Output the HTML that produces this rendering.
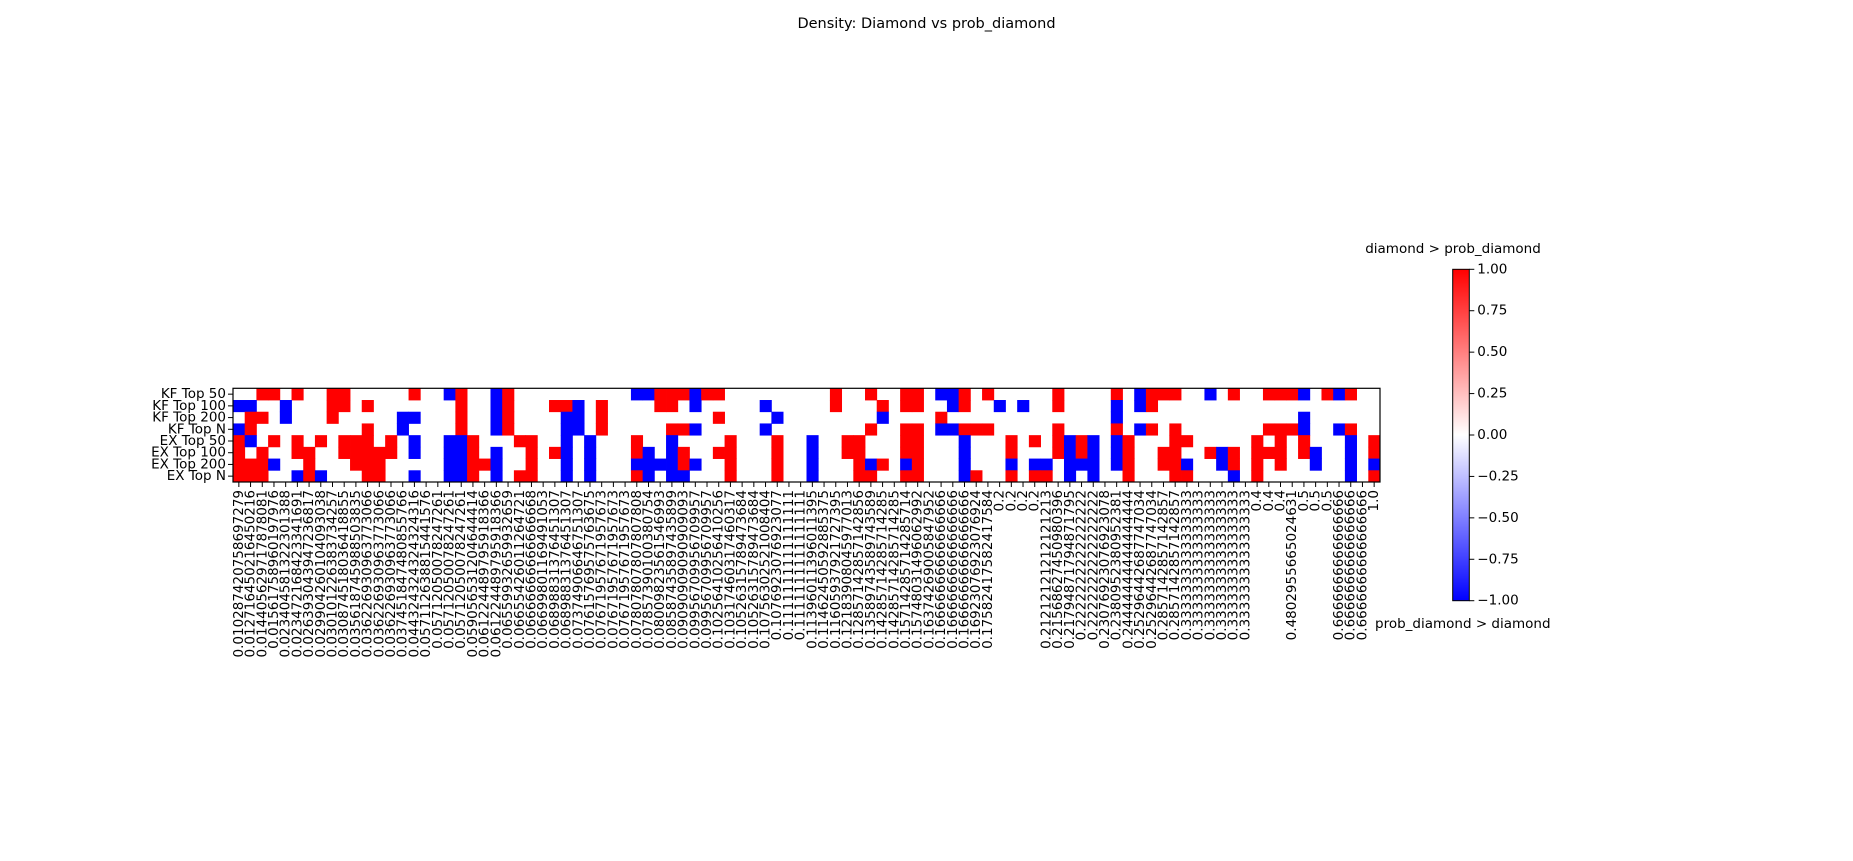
<!DOCTYPE html>
<html><head><meta charset="utf-8"><title>Density: Diamond vs prob_diamond</title>
<style>
html,body{margin:0;padding:0;background:#fff;}
svg{display:block;font-family:"DejaVu Sans","Liberation Sans",sans-serif;}
</style></head>
<body>
<svg id="fig" width="1853" height="861" viewBox="0 0 1853 861" xmlns="http://www.w3.org/2000/svg">
  <rect x="0" y="0" width="1853" height="861" fill="#fff"/>
  <text x="926.5" y="28" font-size="14.5" text-anchor="middle" fill="#000">Density: Diamond vs prob_diamond</text>
  <g id="heat"></g>
  <g id="xt"></g>
  <g id="yt"></g>
  <g id="cb"></g>
</svg>
<script>
const rowLabels = ["KF Top 50","KF Top 100","KF Top 200","KF Top N","EX Top 50","EX Top 100","EX Top 200","EX Top N"];
const colLabels = [
"0.010287420758697279","0.012716450216450216","0.014405629717878081","0.01561758960197976","0.023404581322301388","0.023472168423341691","0.026393043947236817","0.029904260104093038","0.030101226383734257","0.030874518036418855",
"0.035618745988503835","0.036226930963773066","0.036226930963773066","0.036226930963773066","0.037451847480855766","0.044324324324324316","0.057112638815441576","0.05712050078247261","0.05712050078247261","0.05712050078247261",
"0.059056531204644414","0.061224489795918366","0.061224489795918366","0.06559932659932659","0.06655426011264721","0.06666666666666668","0.06699801169491053","0.06898831376451307","0.06898831376451307","0.07374906646751307",
"0.07615769575763675","0.07671957671957673","0.07671957671957673","0.07671957671957673","0.07807807807807808","0.07857390100380754","0.08009823561546993","0.08587435897435899","0.09090909090909093","0.09956709956709957",
"0.09956709956709957","0.10256410256410256","0.10317460317460317","0.10526315789473684","0.10526315789473684","0.10756302521008404","0.1076923076923077","0.1111111111111111","0.1111111111111111","0.11396011396011395",
"0.11462450592885375","0.11605937921727395","0.12183908045977013","0.12857142857142856","0.13589743589743589","0.14285714285714285","0.14285714285714285","0.15714285714285714","0.15748031496062992","0.16374269005847952",
"0.16666666666666666","0.16666666666666666","0.16666666666666666","0.16923076923076924","0.17582417582417584","0.2","0.2","0.2","0.2","0.21212121212121213",
"0.21568627450980396","0.21794871794871795","0.2222222222222222","0.2222222222222222","0.23076923076923078","0.2380952380952381","0.24444444444444444","0.25296442687747034","0.25296442687747034","0.2857142857142857",
"0.2857142857142857","0.3333333333333333","0.3333333333333333","0.3333333333333333","0.3333333333333333","0.3333333333333333","0.3333333333333333","0.4","0.4","0.4",
"0.4802955665024631","0.5","0.5","0.5","0.6666666666666666","0.6666666666666666","0.6666666666666666","1.0"];
const kfTop50 = [0,0,1,1,0,1,0,0,1,1, 0,0,0,0,0,1,0,0,-1,1, 0,0,-1,1,0,0,0,0,0,0, 0,0,0,0,-1,-1,1,1,1,-1, 1,1,0,0,0,0,0,0,0,0, 0,1,0,0,1,0,0,1,1,0, -1,-1,1,0,1,0,0,0,0,0, 1,0,0,0,0,1,0,-1,1,1, 1,0,0,-1,0,1,0,0,1,1, 1,-1,0,1,-1,1,0,0];
const kfTop100 = [-1,-1,0,0,-1,0,0,0,1,1, 0,1,0,0,0,0,0,0,0,1, 0,0,-1,1,0,0,0,1,1,-1, 0,1,0,0,0,0,1,1,0,-1, 0,0,0,0,0,-1,0,0,0,0, 0,1,0,0,0,1,0,1,1,0, 0,-1,1,0,0,-1,0,-1,0,0, 1,0,0,0,0,-1,0,-1,1,0, 0,0,0,0,0,0,0,0,0,0, 0,0,0,0,0,0,0,0];
const kfTop200 = [0,1,1,0,-1,0,0,0,1,0, 0,0,0,0,-1,-1,0,0,0,1, 0,0,-1,1,0,0,0,0,-1,-1, 0,1,0,0,0,0,0,0,0,0, 0,1,0,0,0,0,-1,0,0,0, 0,0,0,0,0,-1,0,0,0,0, 1,0,0,0,0,0,0,0,0,0, 0,0,0,0,0,-1,0,0,0,0, 0,0,0,0,0,0,0,0,0,0, 0,-1,0,0,0,0,0,0];
const kfTopN = [-1,1,0,0,0,0,0,0,0,0, 0,1,0,0,-1,0,0,0,0,1, 0,0,-1,1,0,0,0,0,-1,-1, 0,1,0,0,0,0,0,1,1,-1, 0,0,0,0,0,-1,0,0,0,0, 0,0,0,0,1,0,0,1,1,0, -1,-1,1,1,1,0,0,0,0,0, 1,0,0,0,0,1,0,-1,1,0, 1,0,0,0,0,0,0,0,1,1, 1,-1,0,0,-1,1,0,0];
const exTop50 = [1,-1,0,1,0,1,0,1,0,1, 1,1,0,1,0,-1,0,0,-1,-1, 1,0,0,0,1,1,0,0,-1,0, -1,0,0,0,1,0,0,-1,0,0, 0,0,1,0,0,0,1,0,0,-1, 0,0,1,1,0,0,0,1,1,0, 0,0,-1,0,0,0,1,0,1,0, 1,-1,1,-1,0,-1,1,0,0,0, 1,1,0,0,0,0,0,1,0,1, 0,1,0,0,0,-1,0,1];
const exTop100 = [1,0,1,0,0,1,1,0,0,1, 1,1,1,1,0,-1,0,0,-1,-1, 1,0,-1,0,0,1,0,1,-1,0, -1,0,0,0,1,-1,0,-1,1,0, 0,1,1,0,0,0,1,0,0,-1, 0,0,1,1,0,0,0,1,1,0, 0,0,-1,0,0,0,1,0,0,0, 1,-1,1,-1,0,-1,1,0,0,1, 1,0,0,1,-1,1,0,1,1,1, 0,1,-1,0,0,-1,0,1];
const exTop200 = [1,1,1,-1,0,0,1,0,0,0, 1,1,1,0,0,0,0,0,-1,-1, 1,1,-1,0,0,1,0,0,-1,0, -1,0,0,0,-1,-1,-1,-1,1,-1, 0,0,1,0,0,0,1,0,0,-1, 0,0,0,1,-1,1,0,-1,1,0, 0,0,-1,0,0,0,-1,0,-1,-1, 0,-1,-1,-1,0,-1,1,0,0,1, 1,-1,0,0,-1,1,0,1,0,1, 0,0,-1,0,0,-1,0,-1];
const exTopN = [1,1,1,0,0,-1,1,-1,0,0, 0,1,1,0,0,-1,0,0,-1,-1, 1,0,-1,0,1,1,0,0,-1,0, -1,0,0,0,1,-1,0,-1,-1,0, 0,0,1,0,0,0,1,0,0,-1, 0,0,0,1,1,0,0,1,1,0, 0,0,-1,1,0,0,1,0,1,1, 0,-1,0,-1,0,0,1,0,0,0, 1,1,0,0,0,-1,0,1,0,0, 0,0,0,0,0,-1,0,1];
const cbTicks = [1.00,0.75,0.50,0.25,0.00,-0.25,-0.50,-0.75,-1.00];

const rowsData = [kfTop50,kfTop100,kfTop200,kfTopN,exTop50,exTop100,exTop200,exTopN];
const NS = "http://www.w3.org/2000/svg";
const X0 = 233, X1 = 1380, Y0 = 388.3, Y1 = 482;
const nC = colLabels.length, nR = rowLabels.length;
const cw = (X1 - X0) / nC, rh = (Y1 - Y0) / nR;
function xs(i){ return X0 + i * cw; }
function ys(r){ return Y0 + r * rh; }
function color(v){
  v = Math.max(-1, Math.min(1, v));
  if (v >= 0){ const t = Math.round(255 * (1 - v)); return `rgb(255,${t},${t})`; }
  const t = Math.round(255 * (1 + v)); return `rgb(${t},${t},255)`;
}
function mk(tag, attrs, parent){
  const e = document.createElementNS(NS, tag);
  for (const k in attrs) e.setAttribute(k, attrs[k]);
  parent.appendChild(e); return e;
}
const heat = document.getElementById('heat');
rowsData.forEach((row, r) => {
  row.forEach((v, c) => {
    if (v === 0) return;
    const el = mk('rect', {x: xs(c), y: ys(r), width: cw + 0.4, height: rh + 0.4, fill: color(v)}, heat);
    
    
  });
});
const frame = mk('rect', {x: X0, y: Y0, width: X1 - X0, height: Y1 - Y0, fill: 'none', stroke: '#000', 'stroke-width': 1.2}, heat);



const xt = document.getElementById('xt');
colLabels.forEach((lab, c) => {
  const cx = xs(c) + cw / 2;
  const t = mk('line', {x1: cx, y1: Y1, x2: cx, y2: Y1 + 5, stroke: '#000', 'stroke-width': 1}, xt);
  
  
  const tx = mk('text', {x: 0, y: 0, 'font-size': 13.5, 'text-anchor': 'end', 'dominant-baseline': 'central', transform: `translate(${cx},${Y1 + 8}) rotate(-90)`}, xt);
  tx.textContent = lab;
  
  
});
const yt = document.getElementById('yt');
rowLabels.forEach((lab, r) => {
  const cy = ys(r) + rh / 2;
  const t = mk('line', {x1: X0 - 5, y1: cy, x2: X0, y2: cy, stroke: '#000', 'stroke-width': 1}, yt);
  
  
  const tx = mk('text', {x: X0 - 7, y: cy, 'font-size': 13.5, 'text-anchor': 'end', 'dominant-baseline': 'central'}, yt);
  tx.textContent = lab;
  
  
});

const cb = document.getElementById('cb');
const CX = 1452.7, CW = 16.6, CY0 = 269.3, CY1 = 600.7;
const defs = mk('defs', {}, cb);
const g = mk('linearGradient', {id: 'bwr', x1: 0, y1: 0, x2: 0, y2: 1}, defs);
mk('stop', {offset: '0', 'stop-color': '#ff0000'}, g);
mk('stop', {offset: '0.5', 'stop-color': '#ffffff'}, g);
mk('stop', {offset: '1', 'stop-color': '#0000ff'}, g);
const bar = mk('rect', {x: CX, y: CY0, width: CW, height: CY1 - CY0, fill: 'url(#bwr)', stroke: '#000', 'stroke-width': 1}, cb);


function cby(v){ return CY0 + (1 - v) / 2 * (CY1 - CY0); }
cbTicks.forEach(v => {
  const y = cby(v);
  const t = mk('line', {x1: CX + CW, y1: y, x2: CX + CW + 5, y2: y, stroke: '#000', 'stroke-width': 1}, cb);
  
  
  const tx = mk('text', {x: CX + CW + 8, y: y, 'font-size': 13.5, 'dominant-baseline': 'central'}, cb);
  tx.textContent = (v < 0 ? '\u2212' : '') + Math.abs(v).toFixed(2);
  
  
});
const topLab = mk('text', {x: 1453, y: 253, 'font-size': 13.5, 'text-anchor': 'middle'}, cb);
topLab.textContent = 'diamond > prob_diamond';


const botLab = mk('text', {x: 1375, y: 628, 'font-size': 13.5}, cb);
botLab.textContent = 'prob_diamond > diamond';


</script>
</body></html>
